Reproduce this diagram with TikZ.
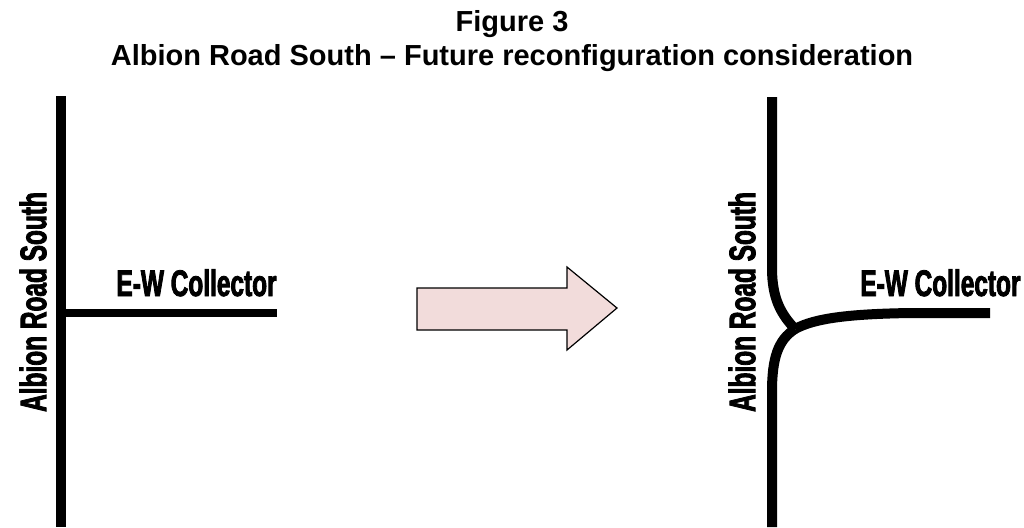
\documentclass[tikz,border=0pt]{standalone}
\usepackage{fontspec}
\setmainfont{Liberation Sans}
\newfontfamily\narrowfont[FakeStretch=0.66,FakeBold=2.2]{Liberation Sans Bold}
\usepackage{tikz}
\usetikzlibrary{positioning}
\definecolor{arrowpink}{HTML}{F2DCDB}
\tikzset{
  road/.style={
    line width=5pt,
    draw=black
  },
  roadlabel/.style={
    font=\narrowfont\fontsize{18.5}{20}\selectfont,
    inner sep=0pt
  },
  titletext/.style={
    font=\bfseries\fontsize{14.5}{17}\selectfont,
    anchor=base,
    inner sep=0pt
  },
  blockarrow/.style={
    draw=black,
    fill=arrowpink,
    line width=0.6pt,
    line join=miter
  }
}
\begin{document}
\begin{tikzpicture}[x=0.5pt,y=-0.5pt]
  \useasboundingbox (0,0) rectangle (1024,527);

  % heading
  \node[titletext] (title) at (512,31) {Figure 3};
  \node[titletext] (subtitle) at (512,65) {Albion Road South -- Future reconfiguration consideration};

  % existing layout
  \coordinate (wtop) at (61,96);
  \coordinate (wbot) at (61,527);
  \coordinate (wjoin) at (61,313);
  \coordinate (wend) at (277,313);
  \draw[road] (wtop) -- (wbot);
  \draw[road, line width=4.2pt] (wjoin) -- (wend);
  \node[roadlabel, rotate=90] (wname) at (33,302) {Albion Road South};
  \node[roadlabel, anchor=base east] (wcoll) at (277,296) {E-W Collector};

  % arrow between the two layouts
  \draw[blockarrow] (417,288) -- (567,288) -- (567,267) -- (617,308)
    -- (567,350) -- (567,330) -- (417,330) -- cycle;

  % future layout
  \coordinate (etop) at (772,97);
  \coordinate (ebot) at (772,527);
  \coordinate (ejoin) at (795,329);
  \coordinate (eend) at (990,313);
  \draw[road] (etop) -- (772,268) .. controls (772,300) and (782,315) .. (ejoin);
  \draw[road] (ejoin) .. controls (778,340) and (772,358) .. (772,392) -- (ebot);
  \draw[road] (ejoin) .. controls (815,318) and (850,314) .. (910,313) -- (eend);
  \node[roadlabel, rotate=90] (ename) at (742,302) {Albion Road South};
  \node[roadlabel, anchor=base west] (ecoll) at (860,296) {E-W Collector};
\end{tikzpicture}
\end{document}
